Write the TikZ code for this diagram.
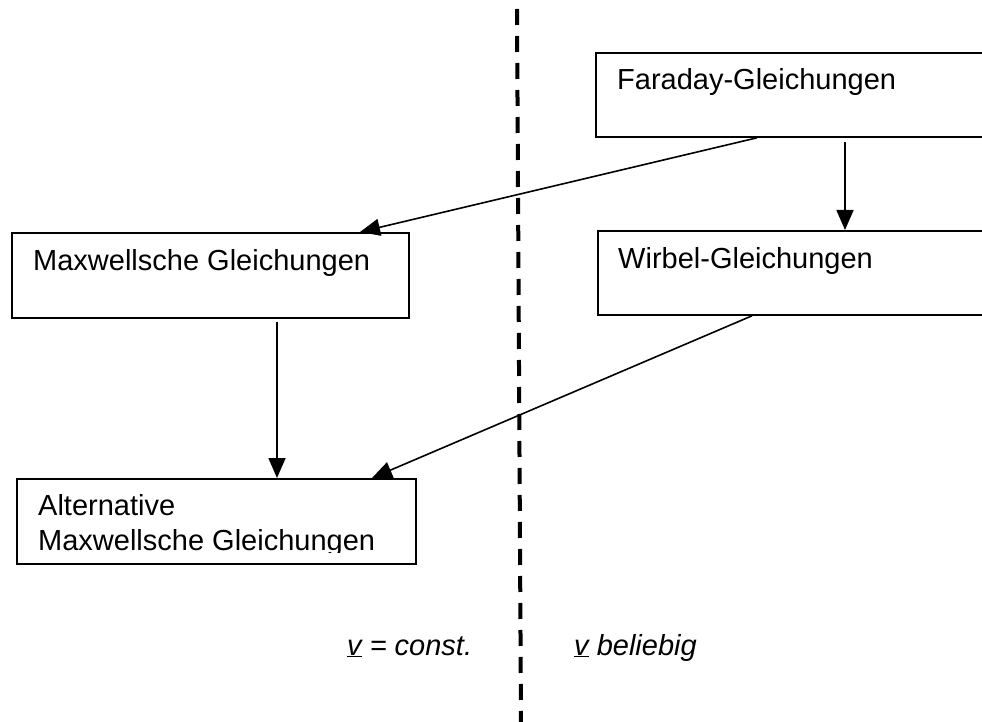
\documentclass[tikz,border=0pt]{standalone}
\usepackage{fontspec}
\setmainfont{Liberation Sans}
\usetikzlibrary{arrows.meta}
\tikzset{
  box/.style={draw=black, line width=1.8pt, rectangle, anchor=north west, inner sep=0pt},
  lbl/.style={anchor=base west, inner sep=0pt, font=\fontsize{29}{35}\selectfont},
  conn/.style={line width=1.6pt, -{Triangle[length=20pt,width=17pt]}},
  divider/.style={line width=4pt, dash pattern=on 16pt off 11pt}
}
\begin{document}
\begin{tikzpicture}[x=1pt,y=-1pt]
\useasboundingbox (0,0) rectangle (982,722);
\clip (0,0) rectangle (982,722);
\fill[white] (0,0) rectangle (982,722);
% divider
\coordinate (dtop) at (517,9);
\coordinate (dbot) at (521,724);
\draw[divider] (dtop) -- (dbot);
% boxes
\node[box, minimum width=420pt, minimum height=84pt] (far) at (595,52) {};
\node[lbl] (fart) at (617,90) {Faraday-Gleichungen};
\node[box, minimum width=397pt, minimum height=85pt] (max) at (11,232) {};
\node[lbl] (maxt) at (33,270) {Maxwellsche Gleichungen};
\node[box, minimum width=420pt, minimum height=84pt] (wir) at (597,230) {};
\node[lbl] (wirt) at (618,268) {Wirbel-Gleichungen};
\node[box, minimum width=399pt, minimum height=85pt] (alt) at (16,478) {};
\begin{scope}
\clip (0,0) rectangle (982,552);
\node[lbl, align=left, anchor=base west] (altt) at (38,550) {Alternative\\Maxwellsche Gleichungen};
\end{scope}
% connectors
\draw[conn] ([xshift=162pt]far.south west) -- ([xshift=349pt]max.north west);
\draw[conn] ([xshift=250pt,yshift=-4pt]far.south west) -- ([xshift=248pt]wir.north west);
\draw[conn] ([xshift=266pt,yshift=-3pt]max.south west) -- ([xshift=261pt]alt.north west);
\draw[conn] ([xshift=155pt]wir.south west) -- ([xshift=356pt]alt.north west);
% labels
\node[lbl] (lab1) at (347,655) {\itshape\underline{v} = const.};
\node[lbl] (lab2) at (574,655) {\itshape\underline{v} beliebig};
\end{tikzpicture}
\end{document}
